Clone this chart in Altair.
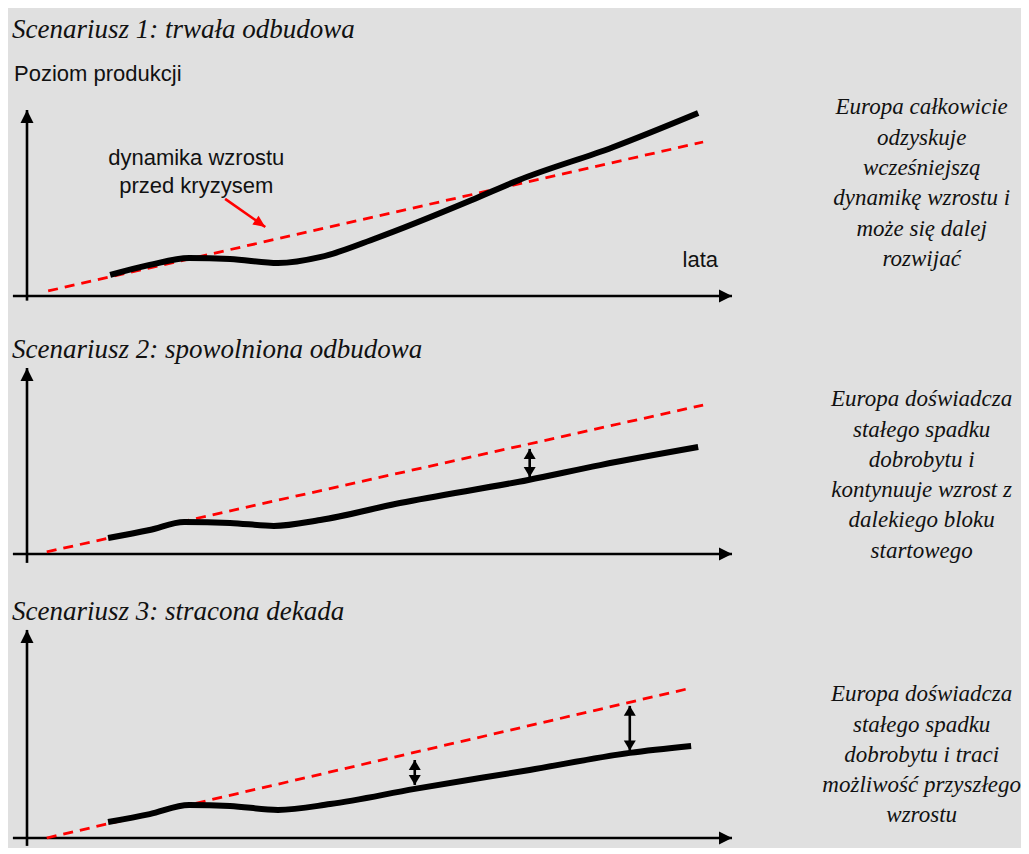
import altair as alt
import pandas as pd

# ---------------- data (diagram units: x = years 0..100, y = output level) ----------
TITLES = ["Scenariusz 1: trwała odbudowa",
          "Scenariusz 2: spowolniona odbudowa",
          "Scenariusz 3: stracona dekada"]
TITLE_X = -2.13
TITLE_Y = [143.0, 109.7, 108.7]

# pre-crisis growth trend (red dashed)
RED_X = [[3.0, 95.9], [2.8, 95.9], [2.8, 94.2]]
RED_Y = [[2.7, 82.8], [1.1, 80.1], [0.0, 72.1]]

# actual output path (black)
BLACK_X = [
    [11.8, 17.4, 23.0, 28.8, 35.6, 41.7, 49.6, 63.1, 69.8, 83.1, 95.2],
    [11.5, 17.4, 22.3, 28.8, 35.0, 41.6, 52.9, 71.1, 81.3, 95.2],
    [11.5, 17.4, 23.0, 28.8, 35.6, 43.0, 55.0, 71.3, 85.5, 94.2],
]
BLACK_Y = [
    [11.3, 16.7, 20.4, 19.9, 17.7, 21.0, 31.2, 51.6, 62.4, 80.0, 98.4],
    [8.6, 12.9, 17.2, 16.7, 15.1, 18.3, 27.4, 39.8, 47.8, 57.5],
    [7.7, 11.5, 15.9, 15.4, 13.5, 16.3, 23.6, 32.7, 40.9, 44.2],
]

# output gap double arrows
GAP_X = [[], [71.3], [55.0, 85.5]]
GAP_TOP = [[], [56.5], [37.5, 63.5]]
GAP_BOTTOM = [[], [41.4], [25.5, 42.0]]

# description on the right
NOTES = [
    ["Europa całkowicie", "odzyskuje", "wcześniejszą", "dynamikę wzrostu i",
     "może się dalej", "rozwijać"],
    ["Europa doświadcza", "stałego spadku", "dobrobytu i", "kontynuuje wzrost z",
     "dalekiego bloku", "startowego"],
    ["Europa doświadcza", "stałego spadku", "dobrobytu i traci",
     "możliwość przyszłego", "wzrostu"],
]
NOTE_X = 126.9
NOTE_Y = [[101.6, 84.9, 68.8, 52.7, 36.0, 19.9],
          [83.3, 66.7, 50.5, 34.4, 18.3, 1.6],
          [69.2, 54.3, 39.9, 25.5, 11.1]]

# axes
AXIS_X_START = -2.0
AXIS_END = 100.0
AXIS_Y_BOTTOM = [-2.5, -4.8, -3.8]

# panel-1 annotations
Y_LABEL = "Poziom produkcji"
Y_LABEL_POS = (-1.84, 119.4)
X_LABEL = "lata"
X_LABEL_POS = (95.5, 19.4)
TREND_LABEL = ["dynamika wzrostu", "przed kryzysem"]
TREND_LABEL_X = 24.0
TREND_LABEL_Y = [74.2, 59.1]
POINTER_FROM = (28.1, 52.2)
POINTER_TO = (33.8, 37.1)

# ---------------- layout ----------
W = 1013
HEIGHTS = [310, 262, 266]
X_DOMAIN = [-2.695, 140.99]
Y_DOMAINS = [[-11.83, 154.84], [-14.0, 126.9], [-3.85, 124.0]]

SERIF = "Liberation Serif"
SANS = "Liberation Sans"

HEAD_UP = "M0,0L0.5,1L-0.5,1Z"
HEAD_RIGHT = "M0,0L-1,-0.5L-1,0.5Z"
GAP_UP = "M0,0L0.6,1L-0.6,1Z"
GAP_DOWN = "M0,0L0.6,-1L-0.6,-1Z"
POINTER_HEAD = "M0,0L-1,-0.45L-1,0.45Z"


def panel(i):
    xs = alt.Scale(domain=X_DOMAIN, nice=False, zero=False)
    ys = alt.Scale(domain=Y_DOMAINS[i], nice=False, zero=False)

    def X(f="x"):
        return alt.X(f"{f}:Q", scale=xs, axis=None)

    def Y(f="y"):
        return alt.Y(f"{f}:Q", scale=ys, axis=None)

    layers = []

    # axis lines
    axes = pd.DataFrame({
        "x": [0.0, AXIS_X_START], "x2": [0.0, AXIS_END],
        "y": [AXIS_Y_BOTTOM[i], 0.0], "y2": [AXIS_END, 0.0],
    })
    layers.append(alt.Chart(axes).mark_rule(color="black", strokeWidth=2.6).encode(
        x=X(), x2="x2:Q", y=Y(), y2="y2:Q"))

    # arrow heads
    heads = pd.DataFrame({
        "x": [0.0, AXIS_END] + GAP_X[i] + GAP_X[i],
        "y": [AXIS_END, 0.0] + GAP_TOP[i] + GAP_BOTTOM[i],
        "shape": [HEAD_UP, HEAD_RIGHT] + [GAP_UP] * len(GAP_X[i]) + [GAP_DOWN] * len(GAP_X[i]),
        "size": [676, 676] + [400] * (2 * len(GAP_X[i])),
    })

    # red dashed trend
    red = pd.DataFrame({"x": RED_X[i], "y": RED_Y[i]})
    layers.append(alt.Chart(red).mark_line(color="#ff0000", strokeWidth=2.8,
                                           strokeDash=[10, 7]).encode(x=X(), y=Y()))

    # black actual path
    blk = pd.DataFrame({"x": BLACK_X[i], "y": BLACK_Y[i]})
    layers.append(alt.Chart(blk).mark_line(color="black", strokeWidth=6,
                                           interpolate="monotone",
                                           strokeCap="butt").encode(x=X(), y=Y()))

    # gap arrows
    if GAP_X[i]:
        gaps = pd.DataFrame({"x": GAP_X[i], "y": GAP_TOP[i], "y2": GAP_BOTTOM[i]})
        layers.append(alt.Chart(gaps).mark_rule(color="black", strokeWidth=2.6).encode(
            x=X(), y=Y(), y2="y2:Q"))

    layers.append(alt.Chart(heads).mark_point(filled=True, color="black", opacity=1,
                                              strokeWidth=0).encode(
        x=X(), y=Y(),
        shape=alt.Shape("shape:N", scale=None),
        size=alt.Size("size:Q", scale=None)))

    # title
    tdf = pd.DataFrame({"x": [TITLE_X], "y": [TITLE_Y[i]], "t": [TITLES[i]]})
    layers.append(alt.Chart(tdf).mark_text(font=SERIF, fontStyle="italic", fontSize=27,
                                           align="left", baseline="middle",
                                           color="#111111").encode(x=X(), y=Y(), text="t:N"))

    # notes
    ndf = pd.DataFrame({"x": [NOTE_X] * len(NOTES[i]), "y": NOTE_Y[i], "t": NOTES[i]})
    layers.append(alt.Chart(ndf).mark_text(font=SERIF, fontStyle="italic", fontSize=23,
                                           align="center", baseline="middle", clip=True,
                                           color="#111111").encode(x=X(), y=Y(), text="t:N"))

    if i == 0:
        ldf = pd.DataFrame({
            "x": [Y_LABEL_POS[0]], "y": [Y_LABEL_POS[1]], "t": [Y_LABEL]})
        layers.append(alt.Chart(ldf).mark_text(font=SANS, fontSize=22, align="left",
                                               baseline="middle", color="#111111").encode(
            x=X(), y=Y(), text="t:N"))
        cdf = pd.DataFrame({
            "x": [X_LABEL_POS[0]] + [TREND_LABEL_X] * 2,
            "y": [X_LABEL_POS[1]] + TREND_LABEL_Y,
            "t": [X_LABEL] + TREND_LABEL})
        layers.append(alt.Chart(cdf).mark_text(font=SANS, fontSize=22, align="center",
                                               baseline="middle", color="#111111").encode(
            x=X(), y=Y(), text="t:N"))
        pdf = pd.DataFrame({"x": [POINTER_FROM[0]], "y": [POINTER_FROM[1]],
                            "x2": [POINTER_TO[0]], "y2": [POINTER_TO[1]]})
        layers.append(alt.Chart(pdf).mark_rule(color="#ff0000", strokeWidth=2.6).encode(
            x=X(), y=Y(), x2="x2:Q", y2="y2:Q"))
        phd = pd.DataFrame({"x": [POINTER_TO[0]], "y": [POINTER_TO[1]]})
        layers.append(alt.Chart(phd).mark_point(filled=True, color="#ff0000", opacity=1,
                                                strokeWidth=0, shape=POINTER_HEAD,
                                                size=576, angle=35).encode(x=X(), y=Y()))

    return alt.layer(*layers).properties(width=W, height=HEIGHTS[i])


chart = alt.vconcat(panel(0), panel(1), panel(2), spacing=0, bounds="flush").properties(
    padding=0, background="#e0e0e0"
).configure_view(stroke=None)

chart.save("out.html", embed_options={"renderer": "svg", "actions": False})
